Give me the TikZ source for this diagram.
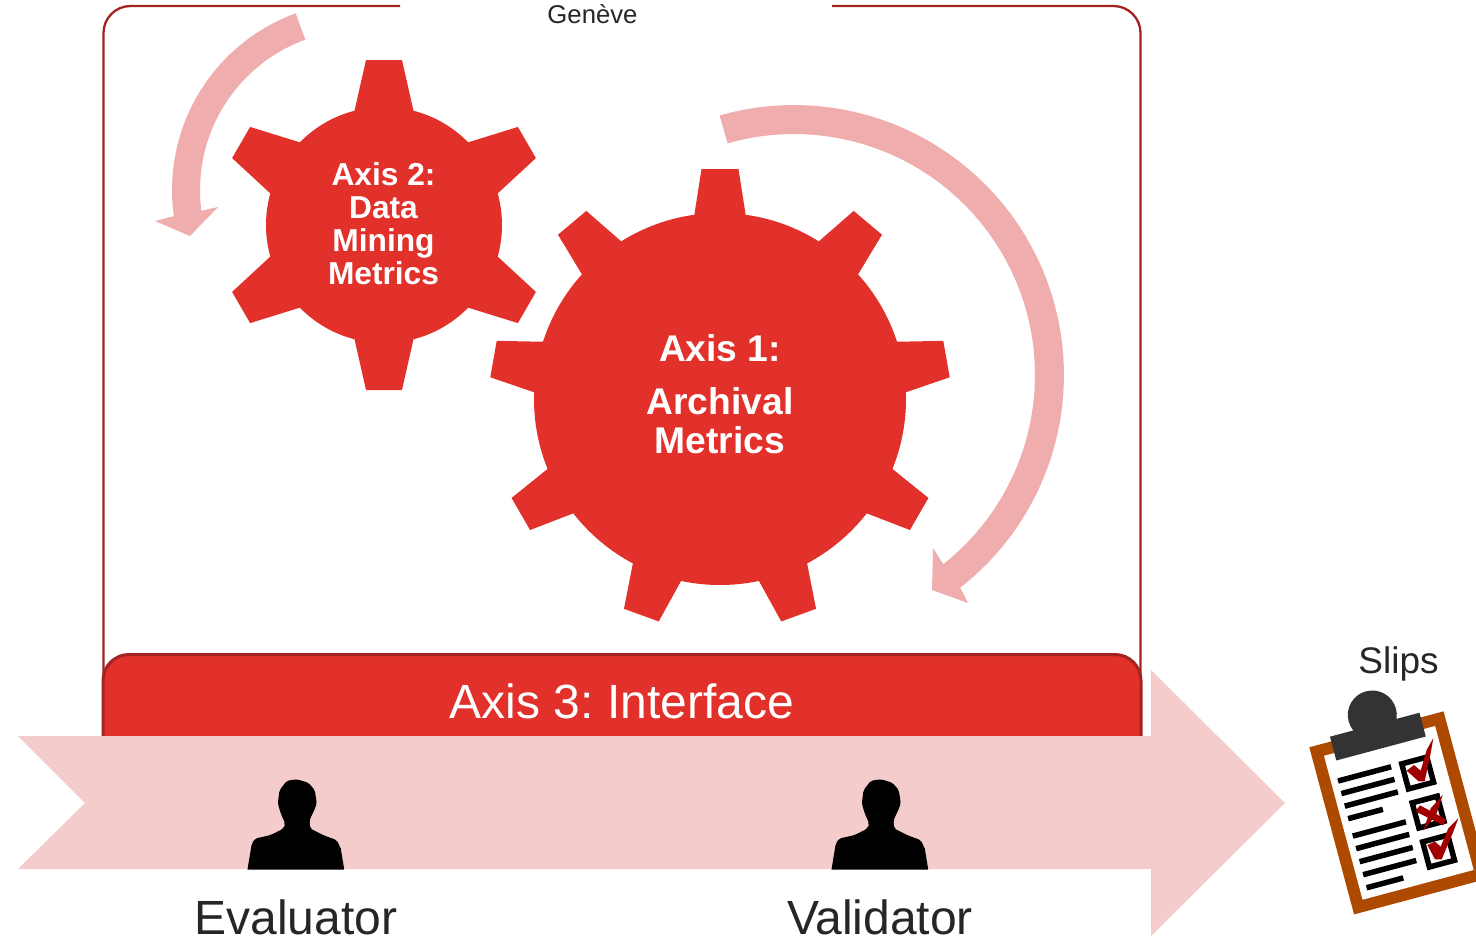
\documentclass[tikz,border=0pt]{standalone}
\usepackage{fontspec}
\setmainfont{Liberation Sans}
\frenchspacing
\definecolor{gearred}{HTML}{E2302A}
\definecolor{framered}{HTML}{A32222}
\definecolor{arrowpink}{HTML}{EFADAD}
\definecolor{bandpink}{HTML}{F4CCCC}
\definecolor{boardbrown}{HTML}{AE4A00}
\definecolor{clipgrey}{HTML}{333333}
\definecolor{tickred}{HTML}{A00000}
\definecolor{inktext}{HTML}{262626}
\tikzset{
  gearlabel/.style={text=white, font=\bfseries, align=center, inner sep=0pt},
  bigtext/.style={text=inktext, anchor=base, inner sep=0pt, font=\fontsize{48}{50}\selectfont},
  boardline/.style={line width=5.5pt, black},
  person/.pic={
    \fill[black, rounded corners=2pt] (1.3,-90.3) -- (-8.7,-88.7) -- (-16,-79.3) -- (-17.7,-66) -- (-14.7,-56) -- (-10.3,-46) -- (-12,-41) -- (-25.3,-34.3) -- (-40.3,-31) -- (-43.7,-26)
      [sharp corners] -- (-48,0) -- (48.7,0) -- (45.3,-21) [rounded corners=2pt] -- (41.3,-29.3) -- (28,-34.3) -- (14.7,-41) -- (14,-49.3) -- (18.7,-59.3) -- (21.3,-66) -- (19.3,-79.3) -- (13,-86.7) -- cycle;
  }
}
\begin{document}
\begin{tikzpicture}[x=1pt, y=-1pt]
  \useasboundingbox (0,0) rectangle (1476,937);
  \clip (0,0) rectangle (1476,937);
  % Frame
  \draw[framered, line width=2.3pt, rounded corners=27pt] (400,6) -- (103.5,6) -- (103.5,700);
  \draw[framered, line width=2.3pt, rounded corners=27pt] (832,6) -- (1140.5,6) -- (1140.5,700);
  \node (geneve) at (592.5,14) [text=inktext, inner sep=0pt, font=\fontsize{25.7}{28}\selectfont] {Genève};
  % Gears
  \fill[gearred] (384,225) circle[radius=118];
  \foreach \a in {0,60,...,300}
    \fill[gearred, shift={(384,225)}, rotate=\a] (-30,-112) -- (-18,-165) -- (18,-165) -- (30,-112) -- cycle;
  \fill[gearred] (720,399) circle[radius=186];
  \foreach \a in {0,40,...,320}
    \fill[gearred, shift={(720,399)}, rotate=\a] (-26,-182) -- (-18.5,-230) -- (18.5,-230) -- (26,-182) -- cycle;
  \node (axistwo) at (383.5,224) [gearlabel, font=\bfseries\fontsize{31.7}{33}\selectfont] {Axis 2:\\Data\\Mining\\Metrics};
  \node (axisone) at (720,394) [gearlabel, font=\bfseries\fontsize{37.2}{39}\selectfont] {Axis 1:\\[14pt]Archival\\Metrics};
  % Turning arrows
  \fill[arrowpink] plot[domain=250:172, samples=40] ({360+188*cos(\x)},{190+188*sin(\x)})
    -- (155,221) -- (190,236) -- (218,207) -- (200,211)
    -- plot[domain=172:250, samples=40] ({360+160*cos(\x)},{190+160*sin(\x)}) -- cycle;
  \fill[arrowpink] plot[domain=254:412, samples=60] ({794+270*cos(\x)},{375+270*sin(\x)})
    -- (968,603) -- (932,590) -- (933,548) -- (945,567)
    -- plot[domain=412:254, samples=60] ({794+241*cos(\x)},{375+241*sin(\x)}) -- cycle;
  % Interface bar
  \draw[framered, fill=gearred, line width=3pt, rounded corners=26pt] (103,760) -- (103,654.5) -- (1141,654.5) -- (1141,760);
  \node (axisthree) at (622,718) [anchor=base, text=white, inner sep=0pt, font=\fontsize{48}{50}\selectfont] {Axis 3: Interface};
  % Band
  \fill[bandpink] (18,736) -- (1151,736) -- (1151,670) -- (1285,803) -- (1151,936) -- (1151,869) -- (18,869) -- (85,803) -- cycle;
  \pic at (295.5,869.5) {person};
  \pic at (879.5,869.5) {person};
  \node (evaluator) at (296,934.5) [bigtext] {Evaluator};
  \node (validator) at (880,934.5) [bigtext] {Validator};
  % Clipboard
  \node (slips) at (1398.5,673) [anchor=base, text=inktext, inner sep=0pt, font=\fontsize{37}{40}\selectfont] {Slips};
  \begin{scope}[shift={(1309.3,747.3)}, rotate=15]
    \fill[boardbrown] (0,0) rectangle (139,173);
    \fill[white] (12,12) rectangle (127,161);
    \fill[clipgrey] (69.2,-14.9) circle[radius=24.5];
    \fill[clipgrey] (22.7,-4.9) rectangle (115.3,19.7);
    \foreach \y/\l in {40/55,53/55,66/55,79/36,97/55,110/55,123.5/55,137/55,150.5/38}
      \draw[boardline] (19,\y) -- ++(\l,0);
    \foreach \y in {52.9,93.3,133.7}
      \draw[black, line width=5.5pt] (85,\y-13) rectangle ++(26,26);
  \end{scope}
  \begin{scope}[shift={(1390,730)}, x=0.3333pt, y=-0.3333pt]
    \fill[tickred] (50,122) -- (72,105) -- (92,122) -- (110,60) -- (130,24) -- (122,70) -- (104,154) -- (86,154) -- cycle;
    \fill[tickred] (112,345) -- (135,335) -- (152,350) -- (175,295) -- (205,265) -- (190,305) -- (155,388) -- (135,388) -- cycle;
    \fill[tickred] (76,244) -- (90,226) -- (168,268) -- (160,286) -- cycle;
    \fill[tickred] (158,195) -- (122,235) -- (100,302) -- (138,255) -- cycle;
  \end{scope}
\end{tikzpicture}
\end{document}
